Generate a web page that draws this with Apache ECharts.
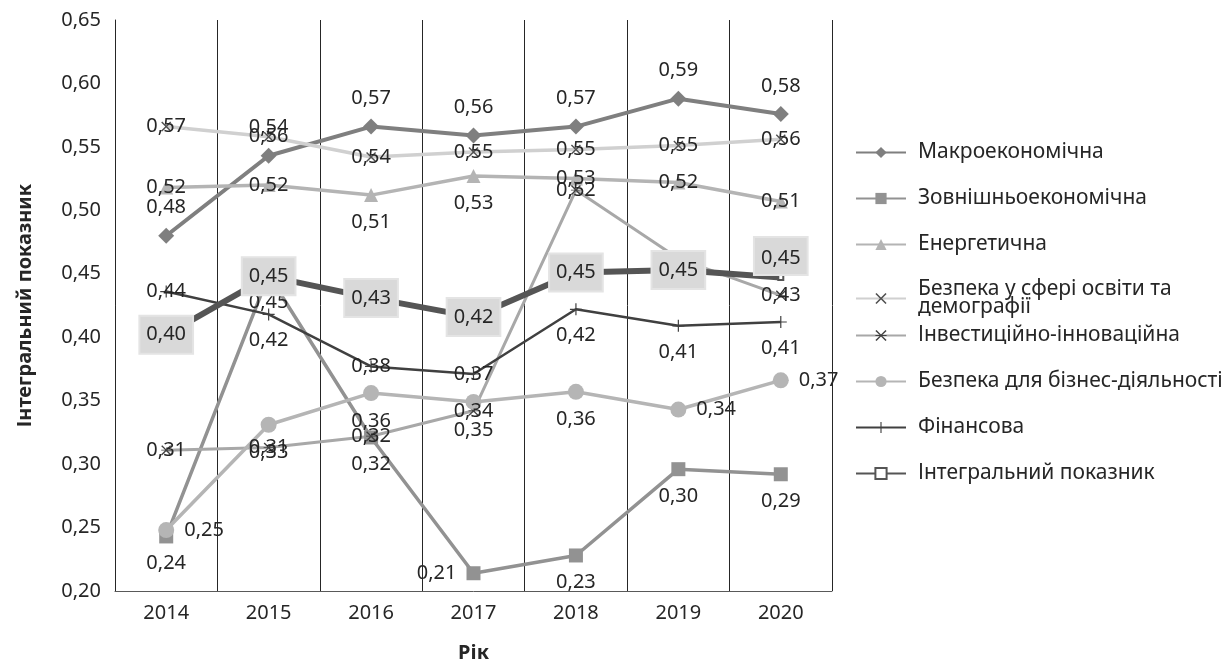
<!DOCTYPE html>
<html>
<head>
<meta charset="utf-8">
<script src="https://cdn.jsdelivr.net/npm/echarts@6/dist/echarts.min.js"></script>
<style>
  html, body { margin: 0; padding: 0; background: #fff; }
  #main { width: 1230px; height: 668px; }
</style>
</head>
<body>
<div id="main"></div>
<script>
var years = ["2014", "2015", "2016", "2017", "2018", "2019", "2020"];
var macro = [0.48, 0.543, 0.566, 0.559, 0.566, 0.588, 0.576];
var external = [0.243, 0.449, 0.321, 0.214, 0.228, 0.296, 0.292];
var energy = [0.518, 0.52, 0.512, 0.527, 0.525, 0.522, 0.507];
var education = [0.566, 0.558, 0.542, 0.546, 0.548, 0.551, 0.556];
var investment = [0.311, 0.313, 0.322, 0.342, 0.516, 0.462, 0.433];
var business = [0.248, 0.331, 0.356, 0.349, 0.357, 0.343, 0.366];
var finance = [0.436, 0.418, 0.377, 0.371, 0.422, 0.409, 0.412];
var integral = [0.402, 0.448, 0.431, 0.416, 0.451, 0.453, 0.447];

var names = [
  "Макроекономічна",
  "Зовнішньоекономічна",
  "Енергетична",
  "Безпека у сфері освіти та демографії",
  "Інвестиційно-інноваційна",
  "Безпека для бізнес-діяльності",
  "Фінансова",
  "Інтегральний показник"
];

var FONT = "Noto Sans";
var TXT = "#262626";

function fmt(v) {
  return v.toFixed(2).replace(".", ",");
}

// per-point label placement (null = series default)
function withLabels(values, positions) {
  return values.map(function (v, i) {
    var p = positions && positions[i];
    if (!p) return v;
    return { value: v, label: { position: p } };
  });
}

var crossPath = "path://M0,1L1,0L5,4L9,0L10,1L6,5L10,9L9,10L5,6L1,10L0,9L4,5Z";
var starPath = "path://M0,1L1,0L5,4L9,0L10,1L6.2,4.6H10V5.4H6.2L10,9L9,10L5,6L1,10L0,9L3.8,5.4H0V4.6H3.8Z";
var plusPath = "path://M4.5,0H5.5V4.5H10V5.5H5.5V10H4.5V5.5H0V4.5H4.5Z";

function line(name, data, color, width, symbol, size, labelPos, markColor) {
  return {
    name: name,
    type: "line",
    data: data,
    symbol: symbol,
    symbolSize: size,
    showAllSymbol: true,
    lineStyle: { color: color, width: width },
    itemStyle: { color: markColor || color },
    label: {
      show: true,
      position: labelPos,
      distance: 10,
      color: TXT,
      fontFamily: FONT,
      fontSize: 20,
      formatter: function (p) { return fmt(p.value); }
    },
    emphasis: { disabled: true }
  };
}

var series = [
  line(names[0], macro, "#7f7f7f", 4, "diamond", 16, "top"),
  line(names[1], withLabels(external, [null, null, null, "left", null, null, null]), "#929292", 3.5, "rect", 14, "bottom"),
  line(names[2], withLabels(energy, ["inside", "inside", null, null, "inside", "inside", "inside"]), "#b4b4b4", 3.5, "triangle", 14, "bottom"),
  line(names[3], education, "#d0d0d0", 3.5, crossPath, 10, "inside", "#505050"),
  line(names[4], investment, "#a8a8a8", 3, starPath, 10, "inside", "#404040"),
  line(names[5], withLabels(business, ["right", null, null, null, null, "right", "right"]), "#b5b5b5", 3.5, "circle", 16, "bottom"),
  line(names[6], withLabels(finance, ["inside", null, "inside", "inside", null, null, null]), "#404040", 2.5, plusPath, 12, "bottom"),
  line(names[7], withLabels(integral, [null, null, null, null, null, null, "top"]), "#555555", 6, "emptyRect", 5, "inside")
];
series[7].z = 10;
series[7].label.backgroundColor = "#d9d9d9";
series[7].label.borderColor = "#e4e4e4";
series[7].label.borderWidth = 2;
series[7].label.padding = [10, 6, 6, 6];
series[7].label.distance = 0;

var legendText = {
  color: TXT,
  fontFamily: FONT,
  fontSize: 21,
  lineHeight: 18,
  padding: [0, 0, 0, 7]
};

function legendBlock(top, items) {
  return {
    orient: "vertical",
    left: 855,
    top: top,
    padding: 0,
    itemWidth: 50,
    itemHeight: 14,
    itemGap: 25,
    data: items,
    textStyle: legendText,
    formatter: function (n) {
      return n === names[3] ? "Безпека у сфері освіти та\nдемографії" : n;
    },
    selectedMode: false
  };
}

var option = {
  animation: false,
  backgroundColor: "#fff",
  textStyle: { fontFamily: FONT },
  grid: { left: 115, right: 398, top: 20, bottom: 77, containLabel: false },
  legend: [
    legendBlock(142, names.slice(0, 3)),
    legendBlock(279, names.slice(3, 4)),
    legendBlock(325, names.slice(4))
  ],
  xAxis: {
    type: "category",
    data: years,
    boundaryGap: true,
    name: "Рік",
    nameLocation: "middle",
    nameGap: 52,
    nameTextStyle: { color: TXT, fontFamily: FONT, fontSize: 20, fontWeight: "bold" },
    axisLine: { show: true, lineStyle: { color: "#595959", width: 1 } },
    axisTick: { show: false },
    axisLabel: { color: TXT, fontFamily: FONT, fontSize: 20, margin: 12 },
    splitLine: { show: true, lineStyle: { color: "#262626", width: 1 } }
  },
  yAxis: {
    type: "value",
    min: 0.2,
    max: 0.65,
    interval: 0.05,
    name: "Інтегральний показник",
    nameLocation: "middle",
    nameGap: 80,
    nameTextStyle: { color: TXT, fontFamily: FONT, fontSize: 20, fontWeight: "bold" },
    axisLine: { show: true, lineStyle: { color: "#262626", width: 1 } },
    axisTick: { show: false },
    axisLabel: {
      color: TXT,
      fontFamily: FONT,
      fontSize: 20,
      margin: 14,
      formatter: function (v) { return fmt(v); }
    },
    splitLine: { show: false }
  },
  series: series
};

var chart = echarts.init(document.getElementById("main"));
chart.setOption(option);
window.addEventListener("resize", function () {
  chart.resize();
});
</script>
</body>
</html>
